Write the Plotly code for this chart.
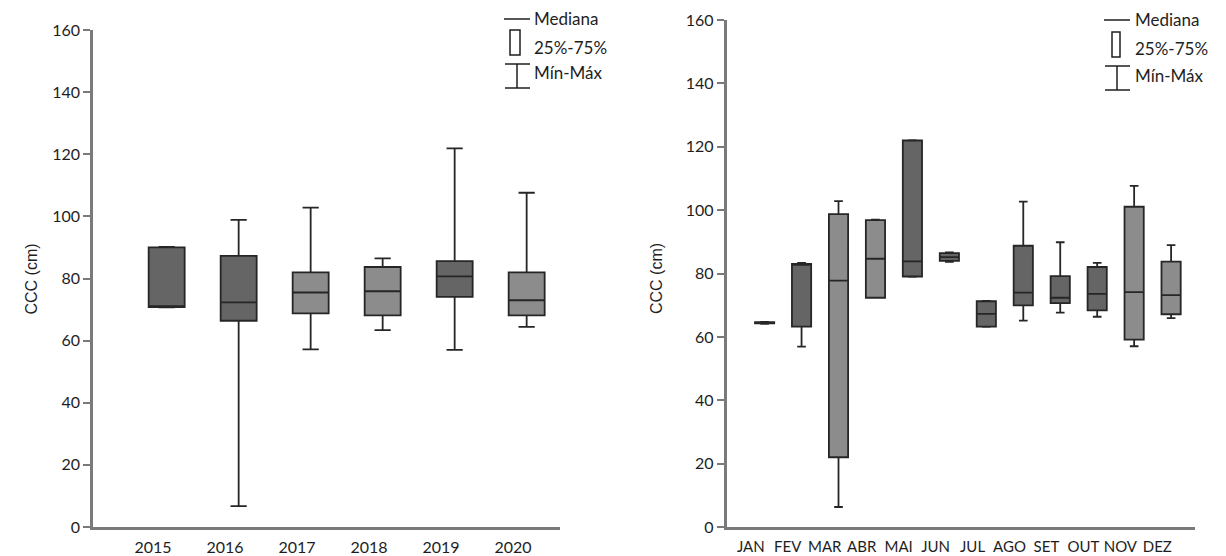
import plotly.graph_objects as go

# ---------------- data ----------------
years = ['2015', '2016', '2017', '2018', '2019', '2020']
year_min = [70.7, 6.7, 57.2, 63.4, 57.0, 64.4]
year_q1 = [70.8, 66.4, 68.8, 68.1, 74.1, 68.1]
year_med = [71.0, 72.3, 75.5, 75.9, 80.7, 73.0]
year_q3 = [90.0, 87.3, 82.0, 83.7, 85.6, 82.0]
year_max = [90.2, 98.9, 102.8, 86.5, 121.9, 107.6]
year_shade = ['dark', 'dark', 'light', 'light', 'dark', 'light']

months = ['JAN', 'FEV', 'MAR', 'ABR', 'MAI', 'JUN', 'JUL', 'AGO', 'SET', 'OUT', 'NOV', 'DEZ']
month_min = [64.2, 57.0, 6.4, 72.4, 79.0, 83.7, 63.2, 65.2, 67.7, 66.4, 57.1, 66.0]
month_q1 = [64.3, 63.3, 22.1, 72.4, 79.1, 84.0, 63.3, 70.0, 70.7, 68.4, 59.2, 67.2]
month_med = [64.5, 83.0, 77.8, 84.7, 83.9, 85.2, 67.3, 74.0, 72.4, 73.6, 74.2, 73.2]
month_q3 = [64.7, 83.1, 98.8, 96.9, 122.0, 86.5, 71.3, 88.8, 79.2, 82.1, 101.1, 83.8]
month_max = [64.8, 83.4, 102.9, 97.0, 122.1, 86.7, 71.4, 102.7, 89.9, 83.4, 107.7, 89.0]
month_shade = ['dark', 'dark', 'light', 'light', 'dark', 'dark', 'dark', 'dark', 'dark', 'dark', 'light', 'light']

y_ticks = [0, 20, 40, 60, 80, 100, 120, 140, 160]
y_title = 'CCC (cm)'
legend_labels = ['Mediana', '25%-75%', 'Mín-Máx']

# ---------------- style ----------------
OFF = 8  # page body margin of the html page
W, H = 1226 - OFF, 556 - OFF
FILL = {'dark': '#656565', 'light': '#8c8c8c'}
EDGE = '#262626'
AXC = '#7a7a7a'
TICKFONT = dict(family='Lato, Open Sans, sans-serif', size=16, color='#1e1e1e')
MONTHFONT = dict(family='Lato, Open Sans, sans-serif', size=15, color='#1e1e1e')
LEGFONT = dict(family='Lato, Open Sans, sans-serif', size=17, color='#1e1e1e')


def px(x):
    return (x - OFF) / W


def py(y):
    return 1 - (y - OFF) / H


fig = go.Figure()


def add_boxes(cats, mins, q1s, meds, q3s, maxs, shades, offset, width, xa, ya):
    for shade in ['dark', 'light']:
        idx = [i for i, s in enumerate(shades) if s == shade]
        fig.add_trace(go.Box(
            x=[i + offset for i in idx],
            lowerfence=[mins[i] for i in idx],
            q1=[q1s[i] for i in idx],
            median=[meds[i] for i in idx],
            q3=[q3s[i] for i in idx],
            upperfence=[maxs[i] for i in idx],
            width=width,
            whiskerwidth=0.45,
            fillcolor=FILL[shade],
            line=dict(color=EDGE, width=1.8),
            boxpoints=False,
            showlegend=False,
            hoverinfo='skip',
            xaxis=xa, yaxis=ya,
        ))


add_boxes(years, year_min, year_q1, year_med, year_q3, year_max, year_shade, 0.19, 0.5, 'x', 'y')
add_boxes(months, month_min, month_q1, month_med, month_q3, month_max, month_shade, 0.373, 0.52, 'x2', 'y2')

ydom_l = [py(527), py(30)]
ydom_r = [py(527.3), py(20)]
xdom_l = [px(93), px(560)]
xdom_r = [px(726.5), px(1195)]

common_y = dict(range=[0, 160], tickvals=y_ticks, showline=True, linecolor=AXC, linewidth=2.5,
                ticks='outside', ticklen=7, tickwidth=2, tickcolor=AXC, showgrid=False,
                zeroline=False, tickfont=TICKFONT, fixedrange=True, automargin=False)
common_x = dict(showline=True, linecolor=AXC, linewidth=2.5, ticks='outside', ticklen=4,
                tickcolor='rgba(0,0,0,0)', showgrid=False, zeroline=False, tickangle=0,
                automargin=False)

fig.update_layout(
    width=W, height=H,
    margin=dict(l=0, r=0, t=0, b=0, autoexpand=False),
    paper_bgcolor='white', plot_bgcolor='white',
    xaxis=dict(domain=xdom_l, range=[-0.833, 5.653], tickvals=list(range(len(years))),
               ticktext=years, anchor='y', tickfont=TICKFONT, **common_x),
    yaxis=dict(domain=ydom_l, anchor='x', **common_y),
    xaxis2=dict(domain=xdom_r, range=[-0.658, 12.02], tickvals=list(range(len(months))),
                ticktext=months, anchor='y2', tickfont=MONTHFONT, **common_x),
    yaxis2=dict(domain=ydom_r, anchor='x2', **common_y),
)

# y-axis titles
for xc in (20, 656):
    fig.add_annotation(x=px(xc), y=py(279), xref='paper', yref='paper', text=y_title,
                       textangle=-90, showarrow=False,
                       font=dict(family='Liberation Sans, Arial, sans-serif', size=16, color='#1e1e1e'))


def add_legend(x0, line_y, box_top, box_bot, wh_top, wh_bot, text_x, text_ys, box_x0, box_x1, lw):
    line = dict(color='#1e1e1e', width=1.5)
    fig.add_shape(type='line', xref='paper', yref='paper', x0=px(x0), x1=px(x0 + lw),
                  y0=py(line_y), y1=py(line_y), line=line)
    fig.add_shape(type='rect', xref='paper', yref='paper', x0=px(box_x0), x1=px(box_x1),
                  y0=py(box_bot), y1=py(box_top), line=line, fillcolor='white')
    cx = x0 + lw / 2
    fig.add_shape(type='line', xref='paper', yref='paper', x0=px(cx), x1=px(cx),
                  y0=py(wh_top), y1=py(wh_bot), line=line)
    fig.add_shape(type='line', xref='paper', yref='paper', x0=px(x0 + 1), x1=px(x0 + lw),
                  y0=py(wh_top), y1=py(wh_top), line=line)
    fig.add_shape(type='line', xref='paper', yref='paper', x0=px(x0 + 1), x1=px(x0 + lw),
                  y0=py(wh_bot), y1=py(wh_bot), line=line)
    for lab, ty in zip(legend_labels, text_ys):
        fig.add_annotation(x=px(text_x), y=py(ty), xref='paper', yref='paper', text=lab,
                           showarrow=False, xanchor='left', yanchor='middle', font=LEGFONT)


add_legend(504, 19, 30, 55, 64, 88, 532, [18, 47, 73], 510, 520, 26)
add_legend(1104, 20, 32, 57, 66, 90, 1133, [20, 49, 75], 1112, 1120, 26)

fig.write_html('out.html')
